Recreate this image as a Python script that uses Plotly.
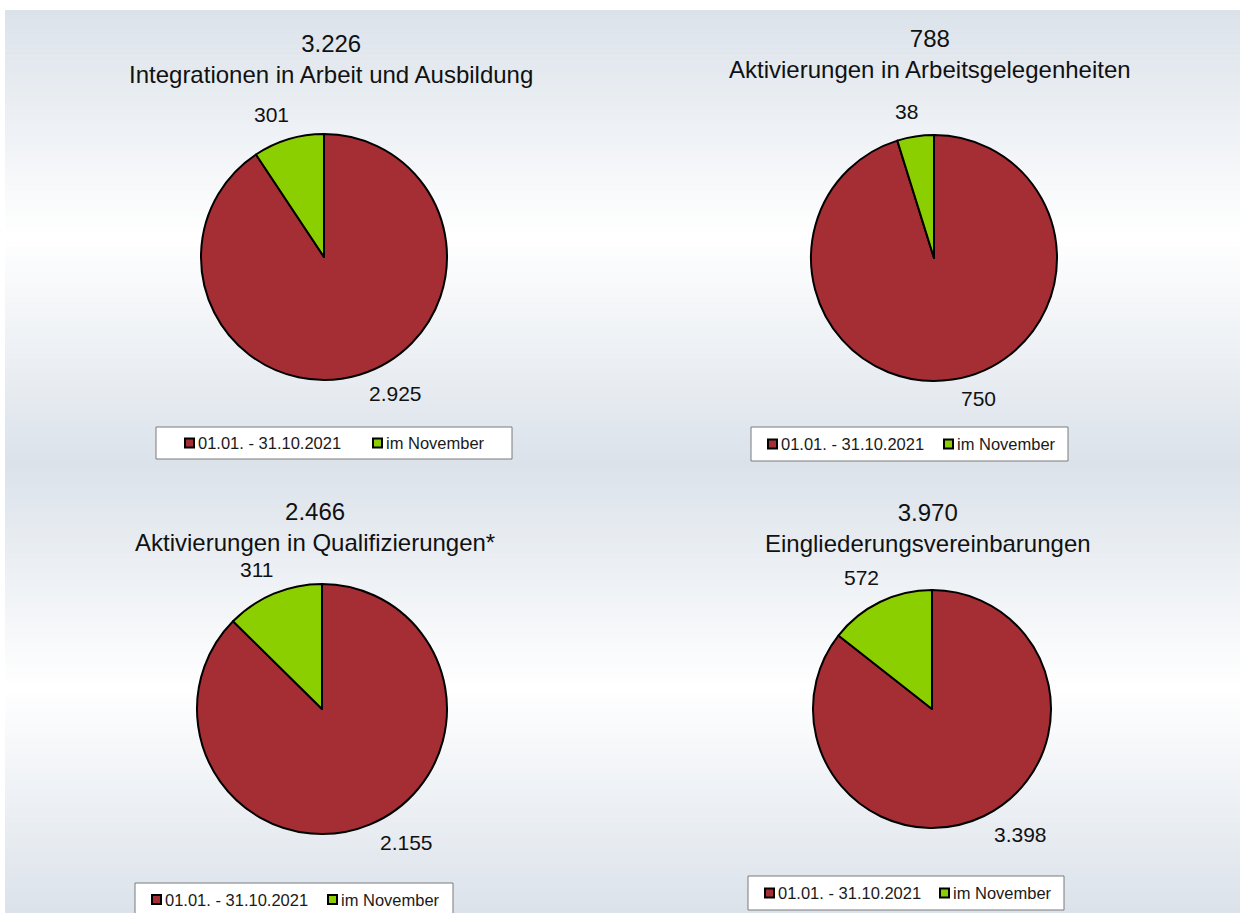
import math
import plotly.graph_objects as go

# ---------------- data ----------------
titles = [
    "Integrationen in Arbeit und Ausbildung",
    "Aktivierungen in Arbeitsgelegenheiten",
    "Aktivierungen in Qualifizierungen*",
    "Eingliederungsvereinbarungen",
]
series_labels = ["01.01. - 31.10.2021", "im November"]
until_october = [2925, 750, 2155, 3398]
november = [301, 38, 311, 572]

# ---------------- style / layout (pixels) ----------------
W, H = 1240, 913
FONT = "Liberation Sans, Arial, sans-serif"
slice_colors = ["#A52E34", "#8CCF00"]
pie_cx = [324, 934, 322, 932]
pie_cy = [257, 258, 709, 709]
pie_r = [123, 123, 125, 119]
title_cx = [331, 930, 315, 928]
title_cy = [43, 38, 511, 512]
# legend box: left, right, top, bottom
legend_box = [(156, 512, 427, 459), (751, 1068, 427, 461),
              (135, 453, 883, 916), (748, 1064, 876, 910)]
legend_pad = [28, 16, 16, 16]
legend_step = [188, 176, 176, 175]
rows = [(10, 463), (463, 913)]
edge_rgb = (219, 226, 234)


def px(x):
    return x / W


def py(y):
    return 1 - y / H


def de(n):
    return f"{n:,}".replace(",", ".")


fig = go.Figure()
annotations = []
shapes = []

# gradient background bands
n_str = 90
for (y0, y1) in rows:
    step = (y1 - y0) / n_str
    for i in range(n_str):
        t = (i + 0.5) / n_str
        k = 1 - abs(2 * t - 1)
        c = tuple(round(e + (255 - e) * k) for e in edge_rgb)
        shapes.append(dict(
            type="rect", xref="paper", yref="paper", layer="below",
            x0=px(5), x1=1, y0=py(y0 + (i + 1) * step + 0.5), y1=py(y0 + i * step),
            fillcolor=f"rgb{c}", line=dict(width=0),
        ))

for i in range(4):
    vals = [until_october[i], november[i]]
    total = sum(vals)
    cx, cy, r = pie_cx[i], pie_cy[i], pie_r[i]
    fig.add_trace(go.Pie(
        labels=series_labels, values=vals, sort=False, direction="clockwise",
        rotation=0, textinfo="none", hoverinfo="label+value",
        marker=dict(colors=slice_colors, line=dict(color="black", width=2)),
        domain=dict(x=[px(cx - r), px(cx + r)], y=[py(cy + r), py(cy - r)]),
        showlegend=False,
    ))
    # title
    annotations.append(dict(
        xref="paper", yref="paper", x=px(title_cx[i]), y=py(title_cy[i] + 16),
        xanchor="center", yanchor="middle", showarrow=False,
        text=f"{de(total)}<br>{titles[i]}",
        font=dict(family=FONT, size=24, color="#111111"),
    ))
    # slice value labels, placed outside the slice midpoints
    start = 0.0
    for v in vals:
        mid = math.radians(start + 180.0 * v / total)
        start += 360.0 * v / total
        s, c = math.sin(mid), math.cos(mid)
        d = r + (12 if c > 0 else 5)
        ax = cx + d * s
        ay = cy - d * c
        annotations.append(dict(
            xref="paper", yref="paper", x=px(ax), y=py(ay), xshift=6,
            xanchor="left" if s > 0 else "right",
            yanchor="bottom" if c > 0 else "top",
            showarrow=False, text=de(v),
            font=dict(family=FONT, size=21, color="#111111"),
        ))
    # legend box
    bx0, bx1, by0, by1 = legend_box[i]
    shapes.append(dict(
        type="rect", xref="paper", yref="paper",
        x0=px(bx0), x1=px(bx1), y0=py(by1), y1=py(by0),
        fillcolor="white", line=dict(color="#7a7a7a", width=1),
    ))
    ymid = (by0 + by1) / 2
    for j, (lab, col) in enumerate(zip(series_labels, slice_colors)):
        sx = bx0 + legend_pad[i] + j * legend_step[i]
        shapes.append(dict(
            type="rect", xref="paper", yref="paper",
            x0=px(sx + 1), x1=px(sx + 10), y0=py(ymid + 4.5), y1=py(ymid - 4.5),
            fillcolor=col, line=dict(color="black", width=2),
        ))
        annotations.append(dict(
            xref="paper", yref="paper", x=px(sx + 12), y=py(ymid),
            xanchor="left", yanchor="middle", showarrow=False, text=lab,
            font=dict(family=FONT, size=16.5, color="#1a1a1a"),
        ))

fig.update_layout(
    width=W, height=H, margin=dict(l=0, r=0, t=0, b=0),
    paper_bgcolor="white", plot_bgcolor="white",
    shapes=shapes, annotations=annotations,
    font=dict(family=FONT), showlegend=False,
)

fig.write_html("out.html", config={"displayModeBar": False},
               post_script="document.body.style.margin='0px';")
